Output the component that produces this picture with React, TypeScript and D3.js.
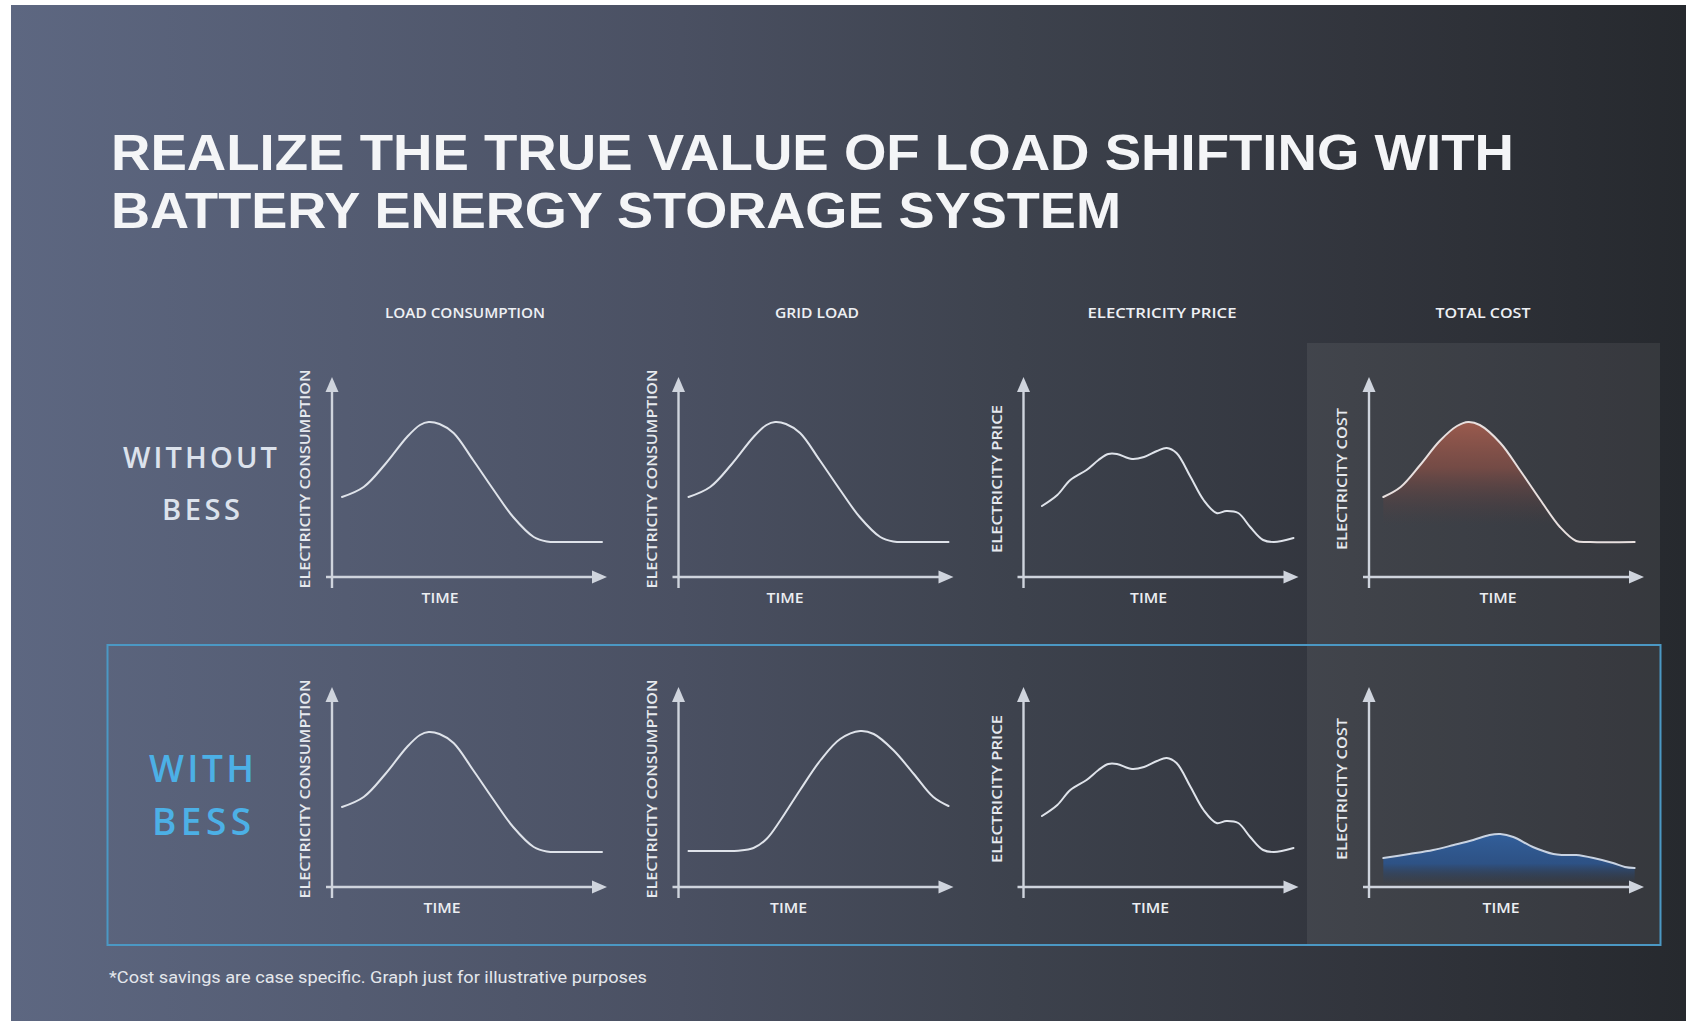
import React from "react";
import * as d3 from "d3";

// ---------- text content ----------
const titleLines = [
  "REALIZE THE TRUE VALUE OF LOAD SHIFTING WITH",
  "BATTERY ENERGY STORAGE SYSTEM",
];
const columnTitles = ["LOAD CONSUMPTION", "GRID LOAD", "ELECTRICITY PRICE", "TOTAL COST"];
const yAxisTitles = [
  "ELECTRICITY CONSUMPTION",
  "ELECTRICITY CONSUMPTION",
  "ELECTRICITY PRICE",
  "ELECTRICITY COST",
];
const xAxisTitle = "TIME";
const rowTitles = [
  ["WITHOUT", "BESS"],
  ["WITH", "BESS"],
];
const footnote = "*Cost savings are case specific. Graph just for illustrative purposes";

// ---------- data (hour of day, relative level) ----------
const loadHours = [0, 2, 4, 6, 7.2, 8.0, 9.0, 10.3, 12.1, 14.0, 15.8, 17.7, 18.9, 20.5, 24];
const loadValues = [80, 90, 113, 140, 152, 155, 153, 144, 117, 87, 60, 40, 35.5, 35, 35];

const gridWithHours = [0, 3, 4.6, 6.0, 7.2, 8.5, 10.3, 12.2, 14.0, 15.85, 17.1, 18.9, 20.8, 22.6, 24];
const gridWithValues = [36, 36, 36.3, 39, 48, 67, 97, 127, 148, 156, 153, 137, 113, 90, 81];

const priceHours = [0.78, 2.2, 3.4, 4.9, 6.0, 6.9, 7.7, 9.1, 10.2, 11.4, 12.3, 13.2, 14.5, 15.7, 16.9, 17.8, 18.9, 20.0, 21.2, 22.2, 24];
const priceValues = [71, 82, 97, 107, 117, 123, 123, 118, 120, 126, 129, 124, 100, 77, 64, 66, 64, 50, 37, 35, 39];

const costWithoutHours = [0.4, 2.0, 3.8, 5.6, 7.2, 8.24, 9.3, 11.2, 13.0, 14.9, 16.7, 18.2, 19.5, 23.6];
const costWithoutValues = [80, 90, 112, 136, 151, 155, 152, 134, 107, 77, 50, 36, 35, 35];

const costWithHours = [0.4, 2.8, 5.0, 6.9, 8.7, 10.2, 11.2, 12.4, 14.2, 16.1, 17.0, 18.2, 19.8, 21.6, 22.7, 23.6];
const costWithValues = [29, 33, 37, 42, 47, 52, 53, 50, 40, 33, 32, 32, 29, 24, 20, 19];

// ---------- layout ----------
const W = 1686;
const H = 1021;
const colAxisX = [332, 678.5, 1023.5, 1369];
const rowAxisY = [577, 887];
const timeCenter = [
  [108, 106.5, 125, 129],
  [110, 110, 127, 132],
];
const headerCenters = [465, 817, 1162, 1483];
const headerWidths = [160, 84, 149, 95];
const yTitleWidths = [219, 219, 148, 142];

type Chart = {
  hours: number[];
  values: number[];
  fill?: "red" | "blue";
};

const grid: Chart[][] = [
  [
    { hours: loadHours, values: loadValues },
    { hours: loadHours, values: loadValues },
    { hours: priceHours, values: priceValues },
    { hours: costWithoutHours, values: costWithoutValues, fill: "red" },
  ],
  [
    { hours: loadHours, values: loadValues },
    { hours: gridWithHours, values: gridWithValues },
    { hours: priceHours, values: priceValues },
    { hours: costWithHours, values: costWithValues, fill: "blue" },
  ],
];

const labelFont = "'Open Sans', 'DejaVu Sans', sans-serif";
const axisColor = "#cfd4dd";
const lineColor = "#dfe3ea";
const curve = d3.curveCatmullRom.alpha(0.5);

function MiniChart({ chart, r, c }: { chart: Chart; r: number; c: number }) {
  const ax = colAxisX[c];
  const ay = rowAxisY[r];
  const x = d3.scaleLinear().domain([0, 24]).range([ax + 10, ax + 270]);
  const y = d3.scaleLinear().domain([0, 200]).range([ay, ay - 200]);
  const pts = chart.hours.map((h, i) => [h, chart.values[i]] as [number, number]);
  const line = d3
    .line<[number, number]>()
    .x((d) => x(d[0]))
    .y((d) => y(d[1]))
    .curve(curve);
  const area = d3
    .area<[number, number]>()
    .x((d) => x(d[0]))
    .y0(y(0))
    .y1((d) => y(d[1]))
    .curve(curve);
  const gid = `fill-${r}-${c}`;
  const tipY = y(200);
  const tipX = ax + 275;
  return (
    <g>
      {chart.fill === "red" && (
        <defs>
          <linearGradient id={gid} gradientUnits="userSpaceOnUse" x1={0} x2={0} y1={y(156)} y2={y(52)}>
            <stop offset="0" stopColor="rgb(160,92,78)" stopOpacity={0.95} />
            <stop offset="0.45" stopColor="rgb(130,78,70)" stopOpacity={0.8} />
            <stop offset="1" stopColor="rgb(80,60,62)" stopOpacity={0} />
          </linearGradient>
        </defs>
      )}
      {chart.fill === "blue" && (
        <defs>
          <linearGradient id={gid} gradientUnits="userSpaceOnUse" x1={0} x2={0} y1={y(54)} y2={y(3)}>
            <stop offset="0" stopColor="rgb(50,95,155)" stopOpacity={1} />
            <stop offset="0.6" stopColor="rgb(44,84,140)" stopOpacity={0.9} />
            <stop offset="1" stopColor="rgb(40,60,90)" stopOpacity={0} />
          </linearGradient>
        </defs>
      )}
      {chart.fill && <path d={area(pts) || ""} fill={`url(#${gid})`} />}
      {/* axes */}
      <line x1={ax} x2={ax} y1={ay + 11} y2={tipY + 10} stroke={axisColor} strokeWidth={2.4} />
      <path d={`M${ax},${tipY} L${ax - 6.5},${tipY + 15} L${ax + 6.5},${tipY + 15} Z`} fill={axisColor} />
      <line x1={ax - 6} x2={tipX - 10} y1={ay} y2={ay} stroke={axisColor} strokeWidth={2.4} />
      <path d={`M${tipX},${ay} L${tipX - 15},${ay - 6.5} L${tipX - 15},${ay + 6.5} Z`} fill={axisColor} />
      {/* data line */}
      <path
        d={line(pts) || ""}
        fill="none"
        stroke={chart.fill === "red" ? "#e8e0df" : chart.fill === "blue" ? "#c9d3e2" : lineColor}
        strokeWidth={2}
        strokeLinejoin="round"
        strokeLinecap="round"
      />
      {/* axis titles */}
      <text
        transform={`translate(${ax - 27},${ay - 98}) rotate(-90)`}
        textAnchor="middle"
        dominantBaseline="central"
        fontFamily={labelFont}
        fontWeight={600}
        fontSize={13.5}
        fill="#e6e9ee"
        textLength={yTitleWidths[c]}
        lengthAdjust="spacingAndGlyphs"
      >
        {yAxisTitles[c]}
      </text>
      <text
        x={ax + timeCenter[r][c]}
        y={ay + 26}
        textAnchor="middle"
        fontFamily={labelFont}
        fontWeight={600}
        fontSize={13.5}
        fill="#eceef2"
        textLength={37}
        lengthAdjust="spacingAndGlyphs"
      >
        {xAxisTitle}
      </text>
    </g>
  );
}

export default function App() {
  return (
    <div style={{ position: "absolute", left: 0, top: 0 }}>
      <svg width={W} height={H} viewBox={`0 0 ${W} ${H}`} style={{ display: "block" }}>
        <defs>
          <linearGradient id="bg" x1="0" x2="1" y1="0" y2="0">
            <stop offset="0" stopColor="#5d6781" />
            <stop offset="0.2" stopColor="#545c72" />
            <stop offset="0.4" stopColor="#4a5062" />
            <stop offset="0.6" stopColor="#3d424d" />
            <stop offset="0.8" stopColor="#32353d" />
            <stop offset="1" stopColor="#26292e" />
          </linearGradient>
        </defs>
        <rect x={0} y={0} width={W} height={H} fill="#ffffff" />
        <rect x={11} y={5} width={W - 11} height={H - 5} fill="url(#bg)" />

        {/* title */}
        {titleLines.map((t, i) => (
          <text
            key={t}
            x={111}
            y={170 + i * 58}
            fontFamily="'Liberation Sans', Arial, sans-serif"
            fontWeight={700}
            fontSize={50}
            fill="#f4f5f7"
            textLength={i === 0 ? 1403 : 1010}
            lengthAdjust="spacingAndGlyphs"
          >
            {t}
          </text>
        ))}

        {/* highlight panel for total cost */}
        <rect x={1307} y={343} width={353} height={602} fill="#ffffff" fillOpacity={0.07} />

        {/* column headers */}
        {columnTitles.map((t, i) => (
          <text
            key={t}
            x={headerCenters[i]}
            y={318}
            textAnchor="middle"
            fontFamily={labelFont}
            fontWeight={600}
            fontSize={13.5}
            fill="#eef0f4"
            textLength={headerWidths[i]}
            lengthAdjust="spacingAndGlyphs"
          >
            {t}
          </text>
        ))}

        {/* row titles */}
        <text x={123} y={468} fontFamily={labelFont} fontWeight={600} fontSize={29} fill="#dce2ec" textLength={154} lengthAdjust="spacing">
          {rowTitles[0][0]}
        </text>
        <text x={162} y={520} fontFamily={labelFont} fontWeight={600} fontSize={29} fill="#dce2ec" textLength={78} lengthAdjust="spacing">
          {rowTitles[0][1]}
        </text>
        <text x={149} y={782} fontFamily={labelFont} fontWeight={600} fontSize={37} fill="#4cb0e6" textLength={105} lengthAdjust="spacing">
          {rowTitles[1][0]}
        </text>
        <text x={152} y={835} fontFamily={labelFont} fontWeight={600} fontSize={37} fill="#4cb0e6" textLength={99} lengthAdjust="spacing">
          {rowTitles[1][1]}
        </text>

        {/* with-BESS frame */}
        <rect x={107.5} y={645} width={1553} height={300} fill="none" stroke="#4b98c4" strokeWidth={2} />

        {grid.map((row, r) => row.map((ch, c) => <MiniChart key={`${r}-${c}`} chart={ch} r={r} c={c} />))}

        <text
          x={109}
          y={983}
          fontFamily="Roboto, 'Liberation Sans', sans-serif"
          fontSize={16.5}
          fill="#e4e7ec"
          textLength={538}
          lengthAdjust="spacingAndGlyphs"
        >
          {footnote}
        </text>
      </svg>
    </div>
  );
}
